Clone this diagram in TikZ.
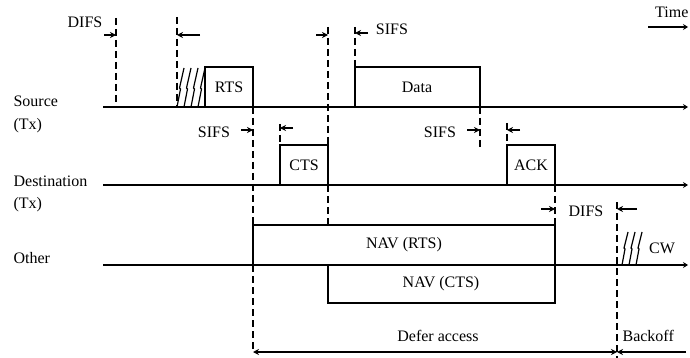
\documentclass[tikz,border=0pt]{standalone}
\usepackage{fontspec}
\setmainfont{Liberation Serif}
\usetikzlibrary{arrows.meta, positioning}

\begin{document}
\begin{tikzpicture}[
  x=1pt, y=-1pt,
  line width=1.2pt,
  font=\fontsize{16}{18}\selectfont,
  >={Stealth[length=6pt,width=6pt]},
  lbl/.style={inner sep=0pt, anchor=west},
  tag/.style={inner sep=0pt},
  gap/.style={dash pattern=on 7pt off 4pt, line width=1.3pt},
  tick/.style={->, line width=1.4pt},
  timeline/.style={-{Stealth[length=5pt,width=6pt]}, line width=1.5pt},
  hatch/.style={line width=1.2pt}
]
  \useasboundingbox (0,0) rectangle (690,358);

  % stations
  \node[lbl] (src)  at (13,101) {Source};
  \node[lbl] (srcx) at (13,126) {(Tx)};
  \node[lbl] (dst)  at (13,181) {Destination};
  \node[lbl] (dstx) at (13,205) {(Tx)};
  \node[lbl] (oth)  at (13,258) {Other};

  \coordinate (s0) at (103,107); \coordinate (s1) at (688,107);
  \coordinate (d0) at (103,185); \coordinate (d1) at (688,185);
  \coordinate (o0) at (103,265); \coordinate (o1) at (688,265);
  \draw[timeline] (s0) -- (s1);
  \draw[timeline] (d0) -- (d1);
  \draw[timeline] (o0) -- (o1);

  % time
  \coordinate (tm0) at (648,27); \coordinate (tm1) at (688,27);
  \draw[timeline] (tm0) -- (tm1);
  \node[tag, anchor=east] (time) at (689,12) {Time};

  % frames
  \draw (205,107) |- (253,67) -- (253,107);
  \draw (355,107) |- (480,67) -- (480,107);
  \draw (280,185) |- (328,145) -- (328,185);
  \draw (507,185) |- (555,145) -- (555,185);
  \draw (253,265) |- (555,225) -- (555,303) -- (328,303) -- (328,265);
  \node[tag] (rts)  at (229,87)  {RTS};
  \node[tag] (data) at (417,87)  {Data};
  \node[tag] (cts)  at (304,165) {CTS};
  \node[tag] (ack)  at (531,165) {ACK};
  \node[tag] (navr) at (404,245) {NAV (RTS)};
  \node[tag] (navc) at (441,284) {NAV (CTS)};

  % contention slots
  \foreach \x in {177,184,191,198}
    \draw[hatch] (\x,107) -- (\x+3.5,89) -- (\x+2.5,88) -- (\x+7,68);
  \foreach \x in {622,629,636}
    \draw[hatch] (\x,265) -- (\x+3,249) -- (\x+2,248) -- (\x+6,232);

  % interframe spaces
  \draw[gap] (116,18) -- (116,107);
  \draw[gap] (177,17) -- (177,107);
  \draw[gap] (253,107) -- (253,225);
  \draw[gap] (253,265) -- (253,352);
  \draw[gap] (328,27) -- (328,145);
  \draw[gap] (328,185) -- (328,225);
  \draw[gap] (280,124) -- (280,145);
  \draw[gap] (355,27) -- (355,67);
  \draw[gap] (480,107) -- (480,147);
  \draw[gap] (507,123) -- (507,145);
  \draw[gap] (555,185) -- (555,225);
  \draw[gap] (617,202) -- (617,358);

  \draw[tick] (104,35) -- (116,35);
  \draw[tick] (200,35) -- (177,35);
  \draw[tick] (316,35) -- (328,35);
  \draw[tick] (368,33) -- (355,33);
  \draw[tick] (241,130) -- (253,130);
  \draw[tick] (293,128) -- (280,128);
  \draw[tick] (467,130) -- (480,130);
  \draw[tick] (520,130) -- (507,130);
  \draw[tick] (541,209) -- (555,209);
  \draw[tick] (637,209) -- (617,209);

  \node[tag] (difs1) at (85,22)   {DIFS};
  \node[tag] (sifs1) at (214,132) {SIFS};
  \node[tag] (sifs2) at (392,29)  {SIFS};
  \node[tag] (sifs3) at (440,132) {SIFS};
  \node[tag] (difs2) at (586,211) {DIFS};
  \node[tag] (cw)    at (662,248) {CW};

  % defer / backoff
  \coordinate (df0) at (253,352); \coordinate (df1) at (617,352);
  \coordinate (bk1) at (686,352);
  \draw[<->] (df0) -- (df1);
  \draw[->] (bk1) -- (df1);
  \node[tag] (defer) at (438,336) {Defer access};
  \node[lbl] (back)  at (622,336) {Backoff};
\end{tikzpicture}
\end{document}
